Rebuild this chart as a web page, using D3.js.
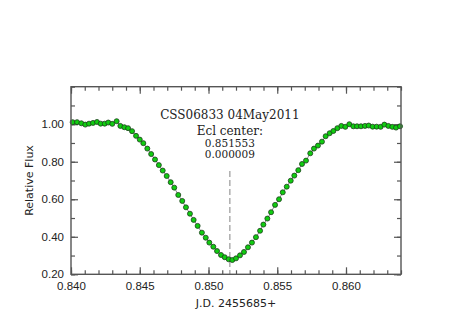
<!DOCTYPE html>
<html>
<head>
<meta charset="utf-8">
<script src="https://cdn.jsdelivr.net/npm/d3@7"></script>
<style>
  body { margin: 0; background: #fff; }
  .tick text { font-family: "Liberation Sans", sans-serif; font-size: 11.5px; fill: #222; }
  .tick line { stroke: #555; stroke-width: 1.2; }
  .axis-title { font-family: "DejaVu Sans", sans-serif; font-size: 11px; fill: #222; }
  .note { font-family: "DejaVu Serif", serif; fill: #222; }
</style>
</head>
<body>
<svg id="chart" width="469" height="325"></svg>
<script>
// light curve points (JD - 2455685, relative flux)
const times = [
  0.84012, 0.84044, 0.84075, 0.84104, 0.84131, 0.84160, 0.84189, 0.84216, 0.84245, 0.84271,
  0.84300, 0.84332, 0.84359, 0.84388, 0.84415, 0.84444, 0.84473, 0.84500, 0.84526, 0.84555,
  0.84583, 0.84611, 0.84639, 0.84667, 0.84696, 0.84725, 0.84751, 0.84780, 0.84809, 0.84836,
  0.84865, 0.84892, 0.84921, 0.84952, 0.84980, 0.85006, 0.85035, 0.85062, 0.85091, 0.85118,
  0.85147, 0.85173, 0.85200, 0.85229, 0.85258, 0.85287, 0.85316, 0.85345, 0.85375, 0.85399,
  0.85428, 0.85455, 0.85484, 0.85513, 0.85540, 0.85569, 0.85598, 0.85624, 0.85653, 0.85680,
  0.85709, 0.85740, 0.85767, 0.85796, 0.85825, 0.85852, 0.85881, 0.85908, 0.85937, 0.85966,
  0.85995, 0.86024, 0.86053, 0.86080, 0.86109, 0.86138, 0.86165, 0.86194, 0.86223, 0.86252,
  0.86279, 0.86308, 0.86337, 0.86364, 0.86393
];
const flux = [
  1.011, 1.011, 1.005, 0.998, 1.003, 1.007, 1.012, 1.003, 1.003, 1.009,
  1.002, 1.016, 0.991, 0.984, 0.979, 0.963, 0.938, 0.918, 0.899, 0.870,
  0.841, 0.812, 0.782, 0.753, 0.724, 0.691, 0.662, 0.623, 0.591, 0.557,
  0.523, 0.490, 0.458, 0.422, 0.395, 0.369, 0.347, 0.324, 0.303, 0.291,
  0.280, 0.276, 0.285, 0.301, 0.319, 0.344, 0.369, 0.398, 0.432, 0.465,
  0.497, 0.531, 0.570, 0.600, 0.637, 0.667, 0.699, 0.726, 0.755, 0.788,
  0.806, 0.845, 0.870, 0.886, 0.907, 0.936, 0.952, 0.964, 0.979, 0.991,
  0.986, 1.000, 0.989, 0.989, 0.989, 0.991, 0.993, 0.987, 0.987, 0.986,
  0.998, 0.991, 0.986, 0.982, 0.989
];

const xMajor = [0.840, 0.845, 0.850, 0.855, 0.860];
const yMajor = [0.20, 0.40, 0.60, 0.80, 1.00];
const eclCenter = 0.851553;
const noteLines = ["CSS06833 04May2011", "Ecl center:", "0.851553", "0.000009"];

const svg = d3.select("#chart");
const margin = { left: 71, top: 86.7, right: 68, bottom: 50.7 };
const width = +svg.attr("width") - margin.left - margin.right;
const height = +svg.attr("height") - margin.top - margin.bottom;

const g = svg.append("g")
  .attr("transform", "translate(" + margin.left + "," + margin.top + ")");

const x = d3.scaleLinear().domain([0.840, 0.864]).range([0, width]);
const y = d3.scaleLinear().domain([0.2, 1.2]).range([height, 0]);

const xMinor = x.ticks(24);
const yMinor = y.ticks(10);

// minor ticks on all four sides
g.append("g").attr("transform", "translate(0," + height + ")")
  .call(d3.axisBottom(x).tickValues(xMinor).tickSize(-4).tickFormat(""));
g.append("g")
  .call(d3.axisTop(x).tickValues(xMinor).tickSize(-4).tickFormat(""));
g.append("g")
  .call(d3.axisLeft(y).tickValues(yMinor).tickSize(-4).tickFormat(""));
g.append("g").attr("transform", "translate(" + width + ",0)")
  .call(d3.axisRight(y).tickValues(yMinor).tickSize(-4).tickFormat(""));

// major ticks with labels
g.append("g").attr("transform", "translate(0," + height + ")")
  .call(d3.axisBottom(x).tickValues(xMajor).tickSize(-7).tickPadding(8).tickFormat(d3.format(".3f")));
g.append("g")
  .call(d3.axisTop(x).tickValues(xMajor).tickSize(-7).tickFormat(""));
g.append("g")
  .call(d3.axisLeft(y).tickValues(yMajor).tickSize(-7).tickPadding(7).tickFormat(d3.format(".2f")));
g.append("g").attr("transform", "translate(" + width + ",0)")
  .call(d3.axisRight(y).tickValues(yMajor).tickSize(-7).tickFormat(""));

g.selectAll(".domain").remove();

// eclipse centre marker
g.append("line")
  .attr("x1", x(eclCenter)).attr("x2", x(eclCenter))
  .attr("y1", y(0.75)).attr("y2", y(0.2))
  .attr("stroke", "#999")
  .attr("stroke-width", 1.2)
  .attr("stroke-dasharray", "6,3");

// connecting line
const pts = times.map((t, i) => [t, flux[i]]);
g.append("path")
  .datum(pts)
  .attr("fill", "none")
  .attr("stroke", "#888")
  .attr("stroke-width", 1)
  .attr("d", d3.line().x(d => x(d[0])).y(d => y(d[1])));

g.selectAll("circle.pt")
  .data(pts)
  .enter().append("circle")
  .attr("class", "pt")
  .attr("cx", d => x(d[0]))
  .attr("cy", d => y(d[1]))
  .attr("r", 2.5)
  .attr("fill", "#10cc10")
  .attr("stroke", "#1d3d1d")
  .attr("stroke-width", 0.8);

// frame
g.append("rect")
  .attr("width", width).attr("height", height)
  .attr("fill", "none")
  .attr("stroke", "#555")
  .attr("stroke-width", 1.4);

// annotation
g.selectAll("text.note")
  .data(noteLines)
  .enter().append("text")
  .attr("class", "note")
  .attr("x", x(eclCenter))
  .attr("y", (d, i) => [32, 48, 60, 71][i])
  .attr("font-size", (d, i) => i < 2 ? "12px" : "10.5px")
  .attr("text-anchor", "middle")
  .text(d => d);

// axis titles
svg.append("text")
  .attr("class", "axis-title")
  .attr("x", margin.left + width / 2)
  .attr("y", 306.5)
  .attr("text-anchor", "middle")
  .text("J.D.  2455685+");

svg.append("text")
  .attr("class", "axis-title")
  .attr("transform", "translate(33," + (margin.top + height / 2) + ") rotate(-90)")
  .attr("text-anchor", "middle")
  .text("Relative Flux");
</script>
</body>
</html>
